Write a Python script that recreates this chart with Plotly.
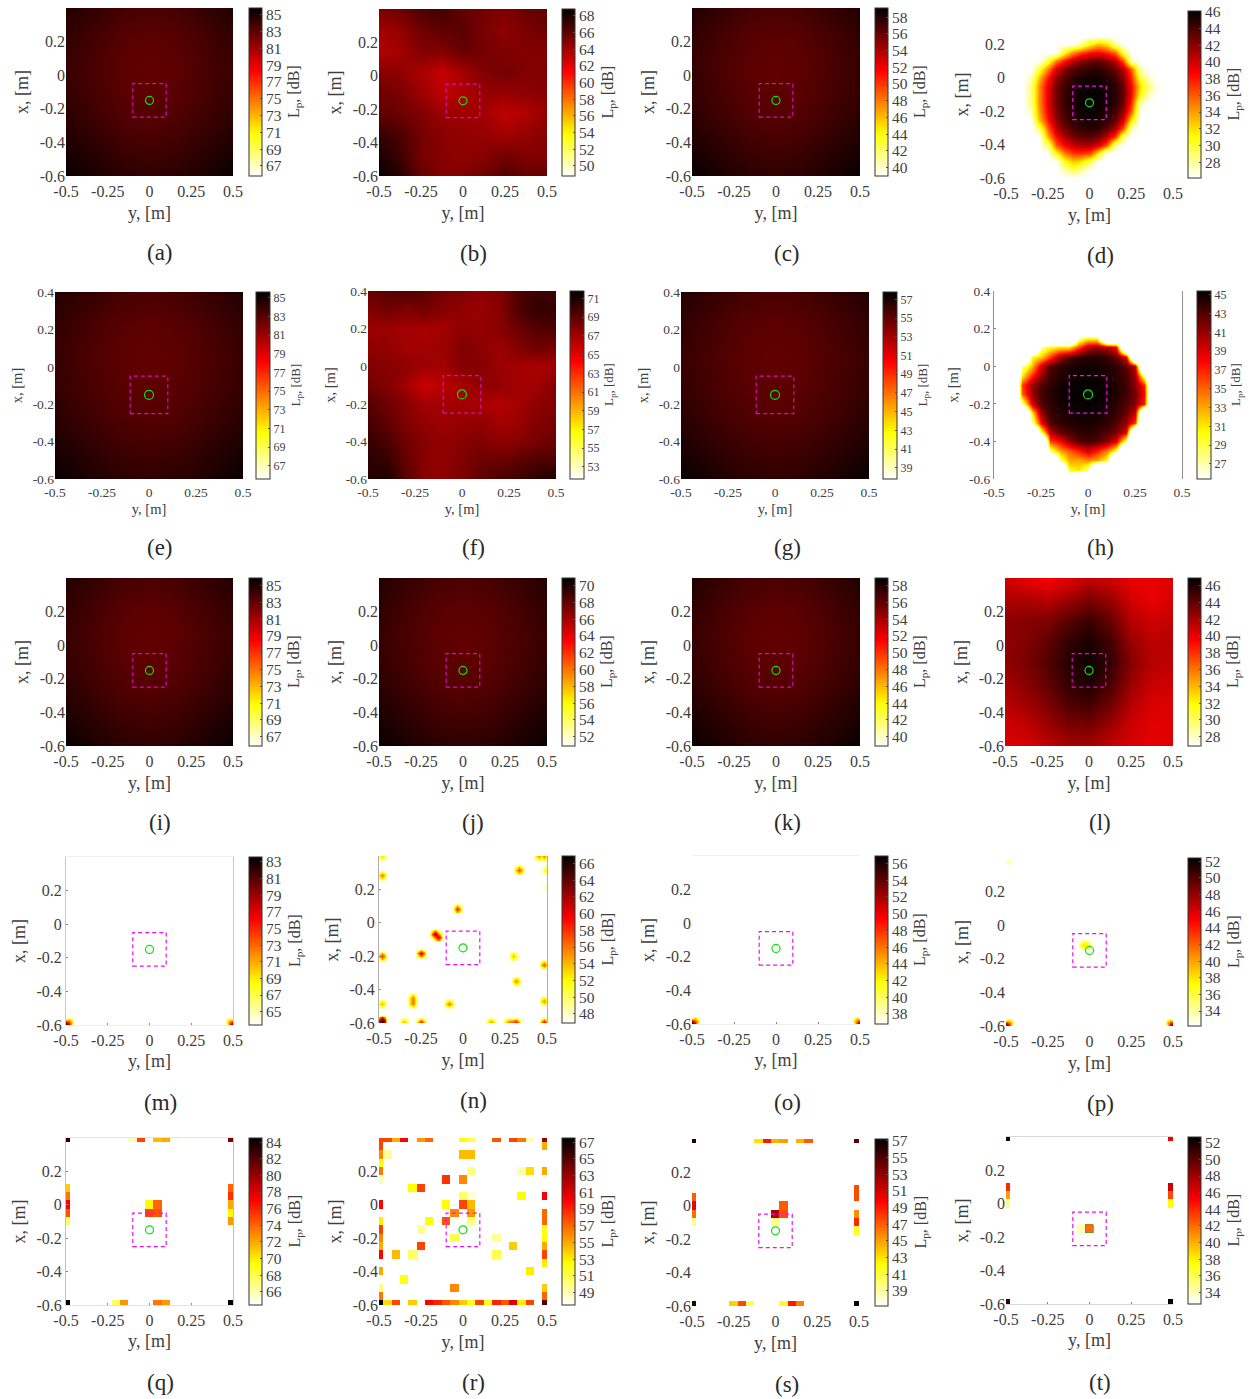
import plotly.graph_objects as go

FIG_W, FIG_H = 1256, 1399
FONT = "Liberation Serif"
TEXT = "#404040"
HOT = [[0, "#ffffff"], [0.25, "#ffff00"], [0.625, "#ff0000"], [1, "#000000"]]

# colour ranges (lower end, upper end)
ranges = dict(
    a=(65.8, 85.8), b=(48.8, 68.8), c=(39.0, 59.1), d=(26.1, 46.1),
    e=(65.6, 85.6), f=(51.7, 71.8), g=(37.8, 57.8), h=(25.4, 45.4),
    i=(65.9, 85.9), j=(50.9, 70.9), k=(38.9, 58.9), l=(26.9, 46.9),
    m=(63.4, 83.6), n=(46.9, 66.9), o=(36.8, 56.9), p=(32.2, 52.4),
    q=(64.4, 84.5), r=(47.5, 67.5), s=(37.2, 57.2), t=(32.6, 52.7),
)
# first labelled colour bar tick
first_tick = dict(a=67, b=50, c=40, d=28, e=67, f=53, g=39, h=27, i=67, j=52, k=40, l=28,
                  m=65, n=48, o=38, p=34, q=66, r=49, s=39, t=34)

y_ticks = [-0.5, -0.25, 0, 0.25, 0.5]
y_tick_text = ["-0.5", "-0.25", "0", "0.25", "0.5"]
x_ticks = [-0.6, -0.4, -0.2, 0, 0.2]
x_tick_text = ["-0.6", "-0.4", "-0.2", "0", "0.2"]
x_ticks_row2 = [-0.6, -0.4, -0.2, 0, 0.2, 0.4]
x_tick_text_row2 = ["-0.6", "-0.4", "-0.2", "0", "0.2", "0.4"]

# ---- broad, smooth fields, rows run from x = 0.4 down to x = -0.6 ----
grid_a = [[84.8,84.3,83.8,83.6,83.8,84.3,84.8],[84.4,83.8,83.3,83.1,83.3,83.8,84.4],[84.2,83.6,83.1,82.9,83.1,83.6,84.2],
          [84.3,83.7,83.2,83.0,83.2,83.7,84.3],[84.6,84.0,83.5,83.3,83.5,84.0,84.6],[85.0,84.5,84.0,83.8,84.0,84.5,85.0],[85.6,85.0,84.6,84.4,84.6,85.0,85.6]]
grid_c = [[58.1,57.6,57.1,56.9,57.1,57.6,58.1],[57.7,57.1,56.6,56.4,56.6,57.1,57.7],[57.5,56.9,56.4,56.2,56.4,56.9,57.5],
          [57.6,57.0,56.5,56.3,56.5,57.0,57.6],[57.9,57.3,56.8,56.6,56.8,57.3,57.9],[58.3,57.8,57.3,57.1,57.3,57.8,58.3],[58.9,58.3,57.9,57.7,57.9,58.3,58.9]]
grid_e = [[84.6,84.1,83.6,83.4,83.6,84.1,84.6],[84.2,83.6,83.1,82.9,83.1,83.6,84.2],[84.0,83.4,82.9,82.7,82.9,83.4,84.0],
          [84.1,83.5,83.0,82.8,83.0,83.5,84.1],[84.4,83.8,83.3,83.1,83.3,83.8,84.4],[84.8,84.3,83.8,83.6,83.8,84.3,84.8],[85.4,84.8,84.4,84.2,84.4,84.8,85.4]]
grid_g = [[56.8,56.3,55.8,55.6,55.8,56.3,56.8],[56.4,55.8,55.3,55.1,55.3,55.8,56.4],[56.2,55.6,55.1,54.9,55.1,55.6,56.2],
          [56.3,55.7,55.2,55.0,55.2,55.7,56.3],[56.6,56.0,55.5,55.3,55.5,56.0,56.6],[57.0,56.5,56.0,55.8,56.0,56.5,57.0],[57.6,57.0,56.6,56.4,56.6,57.0,57.6]]
grid_i = [[84.9,84.4,83.9,83.7,83.9,84.4,84.9],[84.5,83.9,83.4,83.2,83.4,83.9,84.5],[84.3,83.7,83.2,83.0,83.2,83.7,84.3],
          [84.4,83.8,83.3,83.1,83.3,83.8,84.4],[84.7,84.1,83.6,83.4,83.6,84.1,84.7],[85.1,84.6,84.1,83.9,84.1,84.6,85.1],[85.7,85.1,84.7,84.5,84.7,85.1,85.7]]
grid_j = [[69.9,69.4,68.9,68.7,68.9,69.4,69.9],[69.5,68.9,68.4,68.2,68.4,68.9,69.5],[69.3,68.7,68.2,68.0,68.2,68.7,69.3],
          [69.4,68.8,68.3,68.1,68.3,68.8,69.4],[69.7,69.1,68.6,68.4,68.6,69.1,69.7],[70.1,69.6,69.1,68.9,69.1,69.6,70.1],[70.7,70.1,69.7,69.5,69.7,70.1,70.7]]
grid_k = [[57.9,57.4,56.9,56.7,56.9,57.4,57.9],[57.5,56.9,56.4,56.2,56.4,56.9,57.5],[57.3,56.7,56.2,56.0,56.2,56.7,57.3],
          [57.4,56.8,56.3,56.1,56.3,56.8,57.4],[57.7,57.1,56.6,56.4,56.6,57.1,57.7],[58.1,57.6,57.1,56.9,57.1,57.6,58.1],[58.7,58.1,57.7,57.5,57.7,58.1,58.7]]
grid_b = [[65.2,65.6,66.6,66.8,65.8,65.4,65.0,65.8,66.0],[64.0,64.5,65.5,66.0,66.2,65.2,64.6,65.2,65.5],
          [63.6,64.0,65.0,65.0,65.8,65.4,65.0,65.0,65.0],[64.8,64.6,63.8,63.0,64.0,65.0,65.4,65.0,65.0],
          [65.5,65.2,64.2,63.2,63.6,64.4,64.4,64.6,64.8],[66.0,65.6,65.0,64.2,64.2,64.0,63.2,63.6,64.4],
          [67.2,66.5,65.4,64.8,64.5,64.4,64.0,64.4,64.8],[68.0,67.0,65.4,64.8,64.6,64.8,65.4,65.0,65.0],
          [68.6,67.6,65.8,65.0,65.0,65.6,66.4,65.8,65.8]]
grid_l = [[40.8,40.0,39.5,40.2,41.2,40.8,40.0,40.0,40.5],[41.8,41.8,41.4,42.2,43.2,42.4,40.7,40.0,40.6],
          [42.7,43.0,43.2,44.2,45.2,43.9,41.6,40.8,41.2],[42.7,43.1,44.0,45.4,46.1,44.9,42.4,41.4,41.5],
          [42.7,43.3,44.4,45.8,46.5,45.4,43.0,41.5,41.3],[42.1,42.9,44.0,45.5,46.1,44.8,42.4,41.0,40.8],
          [41.4,42.2,43.2,44.6,45.0,43.7,41.6,40.5,40.4],[40.8,41.2,42.3,43.3,43.5,42.3,40.9,40.2,40.4],
          [40.5,40.6,41.2,42.0,42.0,41.2,40.5,40.2,40.4]]
grid_f = [[68.8,69.2,69.5,69.0,68.3,68.0,67.6,68.0,69.5,70.0,70.0],[68.0,68.4,68.0,68.4,67.8,67.5,67.3,67.8,69.5,70.3,70.2],
          [67.2,67.2,67.0,66.8,67.0,67.6,67.4,67.8,68.6,69.3,69.5],[67.6,67.5,67.0,67.0,67.2,68.0,67.6,67.2,68.0,68.6,68.2],
          [68.0,67.8,67.6,67.2,67.0,68.0,67.8,67.2,67.0,66.8,67.0],[68.4,68.0,67.0,65.8,66.4,66.8,67.6,67.5,67.0,67.0,68.0],
          [69.2,68.6,67.8,67.0,67.0,67.0,66.8,66.5,67.0,67.6,68.0],[69.8,69.0,68.0,67.5,67.2,67.4,67.5,67.0,67.2,68.0,68.2],
          [70.2,69.6,68.5,67.8,67.5,67.8,68.0,67.6,67.8,68.3,68.6],[70.6,70.2,68.8,67.8,67.5,68.0,68.6,68.6,69.0,69.5,69.5],
          [70.6,71.0,69.2,67.8,67.6,68.2,69.0,69.6,70.0,70.6,71.0]]

# ---- blob panels: (row from top, first column, values) on the 0.05 m lattice ----
rows_d = [(4,9,[28,31,33,32,28]),(5,7,[31,35,37,38.6,39,38,36,30]),
          (6,5,[30,35,38,40.8,42.2,43,43.3,42.6,40.8,36.5,27.5]),(7,4,[30,35,39.7,42.2,43.6,44.2,44.8,44.8,44.2,43,40.8,36,27.5]),
          (8,3,[27.5,33,38.2,41.8,43.6,44.8,45.3,45.5,45.5,45.2,44.2,42.2,37.5,30,27.5]),
          (9,3,[28.5,34.5,39.2,42.6,44.2,45.2,45.6,45.8,45.8,45.5,44.8,43,38.6,32,29,26.5]),
          (10,3,[28.5,34.5,39.5,42.8,44.4,45.3,45.8,46,45.9,45.6,45,43.3,38.6,31,27.5]),
          (11,3,[28.5,34.5,39.5,42.8,44.4,45.3,45.9,46,45.9,45.5,44.8,42.9,37.5,27.5]),
          (12,3,[27.5,34,39,42.4,44.2,45.2,45.7,45.9,45.7,45.3,44.2,41.8,36,26.5]),
          (13,4,[33,38,41.8,43.6,44.9,45.3,45.5,45.3,44.8,43.3,39.7,32]),
          (14,4,[29,36,40.6,42.8,44,44.7,45,44.7,43.6,41.2,36.5,27.5]),(15,5,[34,38.6,41.2,42.8,43.5,43.6,43,41.2,37.5,29]),
          (16,5,[29,36,38.6,40.3,41,41,39.7,36.5,28]),(17,6,[31,35,37,37.3,36.5,32]),(18,7,[30.5,33,32,29.5]),(19,7,[27.5,29.5,28])]
rows_h = [(5,9,[27,30,29.5]),(6,5,[27,30,31,31,36,40,41,40,38]),(7,4,[30,32,36,41,43,44,44.3,44.3,43.8,42.5,39]),
          (8,3,[27,32.5,39,43,44,44.5,44.8,44.9,44.8,44.5,44,42.8,39.5]),(9,3,[31,37,41,43.5,44.4,44.8,45,45.1,45,44.7,44.2,43.2,41,28]),
          (10,3,[36,41,43,44,44.8,45.1,45.2,45.3,45.2,44.9,44.4,43.5,41.5,37]),(11,3,[35,41,43.3,44.2,44.9,45.2,45.3,45.3,45.2,45,44.5,43.5,42,38]),
          (12,3,[27,39,43,44,44.8,45.1,45.2,45.2,45.1,44.8,44.2,43,41.5,37]),(13,4,[31,41,43.8,44.4,44.8,45,45,44.9,44.5,43.8,42.5,39.5]),
          (14,4,[27,38,43,44,44.4,44.7,44.7,44.5,44,43,41,36]),(15,5,[29,40,42.5,43.3,44,44.2,43.8,43,42,39]),
          (16,6,[36,38,41,43,43.4,43,41.5,39,28]),(17,6,[28,33,35,37,39,37,34,29]),(18,7,[28,33,33,34,33,30]),(19,8,[30,31,27])]
floor_h = 10

# ---- isolated spots: (y, x, peak, shoulder) ----
spots_m = [(-0.5,-0.6,82,78),(-0.483,-0.583,74,70),(0.5,-0.6,81,77),(0.483,-0.583,73,69)]
spots_o = [(-0.5,-0.6,55.5,51.5),(-0.483,-0.583,47,43.5),(0.5,-0.6,54,50),(0.483,-0.583,46,43)]
spots_p = [(-0.5,-0.6,50,46),(-0.483,-0.583,42,38.5),(0.5,-0.6,51,47),(0.483,-0.583,43,39),(-0.04,-0.115,38,37),(-0.02,-0.12,37,36),(-0.49,0.39,34,33)]
spots_n = [(-0.49,0.397,53,50.5),(-0.49,0.28,56,53),(0.45,0.4,55,52.5),(0.48,0.4,55,52.5),(0.34,0.31,57,54),(0.495,0.31,53,50.5),
           (0.5,0.22,49,48),(-0.03,0.088,59,55),(-0.165,-0.06,62,57),(-0.143,-0.082,61,56.5),(-0.243,-0.184,61,56.5),(-0.49,-0.205,58,54.5),
           (0.303,-0.2,54,51.5),(0.31,-0.345,55.5,52.5),(0.487,-0.245,57,54),(0.487,-0.465,55,52.5),(-0.49,-0.477,54,51.5),(-0.295,-0.455,56,53),
           (-0.298,-0.468,56,53),(-0.30,-0.48,56,53),(-0.076,-0.48,56,53),(-0.49,-0.576,65,60),(-0.48,-0.595,66,61),(-0.35,-0.595,55,52.5),(-0.245,-0.6,60,56),
           (0.173,-0.6,56,53),(0.263,-0.6,56,53),(0.28,-0.6,57,54),(0.30,-0.6,58,54.5),(0.32,-0.6,60,56),(0.487,-0.6,61,56.5)]

# ---- tile panels: (column, row from top, level) on the 0.05 m lattice ----
cells_q = [(0,0,83),(20,0,80.5),(0,20,84.5),(20,20,84.5),(8,0,65.5),(9,0,75),(11,0,71.5),(12,0,72),(13,0,65),
           (0,6,71),(0,7,73.5),(0,8,77),(0,9,74.5),(0,10,67.5),(20,6,74),(20,7,75.5),(20,8,72),(20,9,69.5),(20,10,72.5),
           (10,8,69.5),(11,8,74),(10,9,75),(11,9,74.5),(6,20,67.5),(7,20,72.5),(11,20,73.5),(12,20,72.5)]
cells_r = [(0,0,58),(1,0,58),(2,0,55),(3,0,60),(5,0,55.5),(6,0,57),(10,0,52.5),(11,0,51),(14,0,57.5),(16,0,58),(17,0,56.5),(18,0,49),(20,0,63),
           (0,1,58),(0,2,56),(0,3,52.5),(0,4,56.5),(0,5,49),(0,8,60),(0,10,53),(0,11,58),(0,12,56),(0,13,55),(0,14,60),(0,16,55),(0,18,50),(0,19,56.5),
           (20,1,55),(20,4,55),(20,7,60),(20,9,57),(20,10,57),(20,11,52),(20,12,52.5),(20,13,55),(20,14,58),(20,15,53),(20,18,54),(20,19,57),
           (0,20,67.5),(1,20,53.5),(2,20,58),(4,20,54),(6,20,60),(7,20,59),(8,20,57.5),(9,20,56),(10,20,54),(11,20,52),(12,20,58),(13,20,52),
           (14,20,59),(15,20,57.5),(16,20,61),(17,20,53),(18,20,58),(20,20,65),
           (1,2,49.5),(10,2,54.5),(11,2,54.5),(11,4,50),(17,4,49),(18,4,53.5),(8,5,58.5),(10,5,56),(4,6,52.5),(5,6,58),(10,7,50.5),(11,7,48.3),
           (17,7,52.5),(8,8,52.5),(10,8,58),(11,8,54.5),(9,9,56),(11,9,55.5),(12,9,48),(6,10,52.5),(8,10,57.5),(11,10,50),(5,11,49.5),(9,12,51),
           (14,12,49.5),(5,13,58),(16,13,54),(2,14,54.5),(4,14,50.5),(14,14,51),(18,16,53),(3,17,52),(9,18,56)]
cells_s = [(0,0,56),(20,0,54.5),(0,20,56),(20,20,57),(8,0,43),(9,0,49),(10,0,44.5),(11,0,45),(13,0,44.5),(14,0,47),
           (0,6,37.5),(0,7,47),(0,8,50),(0,9,46.5),(0,10,39.5),(20,6,47.5),(20,7,47.5),(20,9,45.5),(20,10,48.5),(20,11,41.5),
           (10,9,52),(11,8,47),(11,9,47.5),(10,10,39.5),(5,20,43.5),(6,20,47.5),(7,20,40.5),(11,20,41.5),(12,20,49),(13,20,46)]
cells_t = [(0,0,51.5),(20,0,45.5),(0,20,51),(20,20,52.7),(0,6,44),(0,7,40.5),(0,8,35),(20,6,46.5),(20,7,43),(20,8,37.5),(9,11,34),(10,11,42)]

# ---- sampled coordinates ----
lattice_y = [round(-0.5 + 0.05 * i, 3) for i in range(21)]
lattice_x = [round(-0.6 + 0.05 * i, 3) for i in range(21)]
fine_y = [round(-0.5 + i / 60, 4) for i in range(61)]
fine_x = [round(-0.6 + i / 60, 4) for i in range(61)]


def from_grid(rows):
    n_y, n_x = len(rows[0]), len(rows)
    ys = [-0.5 + i / (n_y - 1) for i in range(n_y)]
    xs = [-0.6 + i / (n_x - 1) for i in range(n_x)]
    return ys, xs, rows[::-1], "best"


def from_rows(rows, floor):
    z = [[floor] * 21 for _ in range(21)]
    for t, c, vals in rows:
        for k, v in enumerate(vals):
            z[t][c + k] = v
    return lattice_y, lattice_x, z[::-1], "best"


def from_cells(cells, floor):
    z = [[floor] * 21 for _ in range(21)]
    for c, t, v in cells:
        z[t][c] = v
    return lattice_y, lattice_x, z[::-1], False


def from_spots(spots, floor):
    z = [[floor] * 61 for _ in range(61)]
    for y, x, peak, shoulder in spots:
        i = round((y + 0.5) * 60)
        j = round((x + 0.6) * 60)
        for dj in (-1, 0, 1):
            for di in (-1, 0, 1):
                jj, ii = j + dj, i + di
                if 0 <= jj < 61 and 0 <= ii < 61:
                    if di == 0 and dj == 0:
                        v = peak
                    elif di == 0 or dj == 0:
                        v = shoulder
                    else:
                        v = (shoulder + floor) / 2
                    z[jj][ii] = max(z[jj][ii], v)
    return fine_y, fine_x, z, "best"


fields = dict(
    a=from_grid(grid_a), b=from_grid(grid_b), c=from_grid(grid_c), d=from_rows(rows_d, ranges["d"][0]),
    e=from_grid(grid_e), f=from_grid(grid_f), g=from_grid(grid_g), h=from_rows(rows_h, floor_h),
    i=from_grid(grid_i), j=from_grid(grid_j), k=from_grid(grid_k), l=from_grid(grid_l),
    m=from_spots(spots_m, ranges["m"][0]), n=from_spots(spots_n, ranges["n"][0]),
    o=from_spots(spots_o, ranges["o"][0]), p=from_spots(spots_p, ranges["p"][0]),
    q=from_cells(cells_q, ranges["q"][0]), r=from_cells(cells_r, ranges["r"][0]),
    s=from_cells(cells_s, ranges["s"][0]), t=from_cells(cells_t, ranges["t"][0]),
)

# ---- layout in pixels: plot left, right, top, bottom, colour bar left, caption x, caption y ----
boxes = dict(
    a=(66,233,8,176,249,160,252), b=(379,547,9,176,562,473,253), c=(692,860,8,176,875,787,253), d=(1006,1173,11,178,1188,1100,255),
    e=(55,243,292,479,256,160,547), f=(368,556,291,479,570,473,547), g=(681,869,292,479,883,787,547), h=(994,1182,291,479,1197,1100,547),
    i=(66,233,578,746,249,160,822), j=(379,547,578,746,562,473,822), k=(692,860,578,746,875,787,822), l=(1005,1173,578,746,1188,1100,822),
    m=(66,233,857,1025,249,160,1102), n=(379,547,856,1023,562,473,1100), o=(692,860,856,1024,875,787,1102), p=(1006,1173,858,1026,1188,1100,1103),
    q=(66,233,1138,1305,249,160,1382), r=(379,547,1138,1305,562,473,1382), s=(692,859,1139,1306,875,787,1384), t=(1006,1173,1137,1304,1188,1100,1382),
)
# visible frame colours (horizontal edges, vertical edges), empty panels only
frames = dict(m=("#eeeeee", "#c8c8c8"), n=(None, "#b0b0b0"), o=("#eeeeee", None), h=(None, "#909090"),
              q=("#e4e4e4", "#c0c0c0"), t=("#d8d8d8", None))

BOX_Y, BOX_X = (-0.1, 0.1), (-0.25, -0.05)
MIC_Y, MIC_X, MIC_R = 0.0, -0.15, 0.024

fig = go.Figure()
shapes, annotations = [], []
layout = {}
for idx, name in enumerate(ranges, start=1):
    left, right, top, bottom, cb_left, cap_x, cap_y = boxes[name]
    zmin, zmax = ranges[name]
    ys, xs, z, smooth = fields[name]
    small = name in "efgh"
    tick_size = 13.5 if small else 16
    title_size = 14.5 if small else 18
    cb_size = 12 if small else 15.5
    ax_x, ax_y = f"x{idx}", f"y{idx}"
    fig.add_trace(go.Heatmap(
        x=ys, y=xs, z=z, zmin=zmin, zmax=zmax, zsmooth=smooth, colorscale=HOT, xaxis=ax_x, yaxis=ax_y, hoverinfo="skip",
        colorbar=dict(
            x=cb_left / FIG_W, xanchor="left", xpad=0, y=1 - top / FIG_H, yanchor="top", ypad=0,
            lenmode="pixels", len=bottom - top, thicknessmode="pixels", thickness=14 if small else 13,
            outlinecolor="#333333", outlinewidth=1, tick0=first_tick[name], dtick=2, ticks="inside", ticklen=2,
            tickcolor="#555555", tickwidth=1, tickfont=dict(family=FONT, size=cb_size, color=TEXT),
        ),
    ))
    h_edge, v_edge = frames.get(name, (None, None))
    label_gap = 1 if h_edge else (3 if small else 4)
    title_gap = 5 if small else (6 if h_edge else 7)
    layout[f"xaxis{idx}"] = dict(
        domain=[left / FIG_W, right / FIG_W], range=[-0.5, 0.5], anchor=ax_y, tickmode="array", tickvals=y_ticks, ticktext=y_tick_text,
        showgrid=False, zeroline=False, showline=h_edge is not None, linecolor=h_edge, mirror=True, linewidth=1,
        ticks="inside" if h_edge else "", ticklen=2, tickcolor="#888888", ticklabelstandoff=label_gap,
        tickfont=dict(family=FONT, size=tick_size, color=TEXT),
        title=dict(text="y, [m]", standoff=title_gap, font=dict(family=FONT, size=title_size, color=TEXT)),
    )
    layout[f"yaxis{idx}"] = dict(
        domain=[1 - bottom / FIG_H, 1 - top / FIG_H], range=[-0.6, 0.4], anchor=ax_x, tickmode="array",
        tickvals=x_ticks_row2 if small else x_ticks, ticktext=x_tick_text_row2 if small else x_tick_text,
        showgrid=False, zeroline=False, showline=v_edge is not None, linecolor=v_edge, mirror=True, linewidth=1,
        ticks="inside" if v_edge else "", ticklen=2, tickcolor="#888888",
        tickfont=dict(family=FONT, size=tick_size, color=TEXT),
        title=dict(text="x, [m]", standoff=6, font=dict(family=FONT, size=title_size, color=TEXT)),
    )
    dark_panel = name in "abcefgijkl"
    box_colour = "#d010c0" if dark_panel else "#f010f0"
    if name == "t":
        shapes.append(dict(type="rect", xref=ax_x, yref=ax_y, x0=-0.025, x1=0.025, y0=-0.175, y1=-0.125,
                           fillcolor="#20b030", line=dict(width=0)))
        shapes.append(dict(type="circle", xref=ax_x, yref=ax_y, x0=MIC_Y - MIC_R, x1=MIC_Y + MIC_R, y0=MIC_X - MIC_R, y1=MIC_X + MIC_R,
                           fillcolor="#ff6a10", line=dict(width=0)))
    shapes.append(dict(type="rect", xref=ax_x, yref=ax_y, x0=BOX_Y[0], x1=BOX_Y[1], y0=BOX_X[0], y1=BOX_X[1],
                       line=dict(color=box_colour, width=1.2, dash="4px,3px")))
    if name != "t":
        shapes.append(dict(type="circle", xref=ax_x, yref=ax_y, x0=MIC_Y - MIC_R, x1=MIC_Y + MIC_R, y0=MIC_X - MIC_R, y1=MIC_X + MIC_R,
                           line=dict(color="#10e010", width=1.2)))
    annotations.append(dict(text=f"({name})", xref="paper", yref="paper", x=cap_x / FIG_W, y=1 - cap_y / FIG_H, showarrow=False,
                            xanchor="center", yanchor="middle", font=dict(family=FONT, size=23, color="#2a2a2a")))
    annotations.append(dict(text="L<sub>p</sub>, [dB]", xref="paper", yref="paper", textangle=-90, showarrow=False,
                            x=(cb_left + (40 if small else 46)) / FIG_W, y=1 - ((top + bottom) / 2) / FIG_H,
                            xanchor="center", yanchor="middle", font=dict(family=FONT, size=13 if small else 16, color=TEXT)))

fig.update_layout(width=FIG_W, height=FIG_H, margin=dict(l=0, r=0, t=0, b=0, autoexpand=False), paper_bgcolor="white", plot_bgcolor="white",
                  showlegend=False, shapes=shapes, annotations=annotations, **layout)
fig.write_html("out.html", config={"displayModeBar": False},
               post_script="document.body.style.margin='0';document.documentElement.style.overflow='hidden';")
